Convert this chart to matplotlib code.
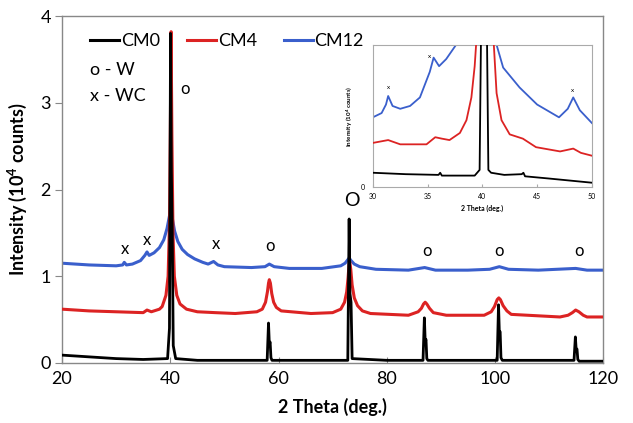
import matplotlib
matplotlib.use("Agg")
import matplotlib.pyplot as plt
from matplotlib.lines import Line2D

plt.rcParams['font.family'] = ['Lato', 'DejaVu Sans']
plt.rcParams['mathtext.fontset'] = 'custom'
plt.rcParams['mathtext.rm'] = 'Lato'
plt.rcParams['mathtext.bf'] = 'Lato:bold'

# ---------------- main pattern data (2theta in deg, intensity in 10^4 counts) -------------
cm0_x = [20, 25, 30, 35, 39.5, 39.85, 40.05, 40.2, 40.35, 40.55, 41, 45, 50, 57.9, 58.15, 58.3,
         58.45, 58.6, 58.8, 65, 72.8, 73.05, 73.2, 73.4, 73.6, 80, 86.7, 86.95, 87.1, 87.25,
         87.4, 87.6, 95, 100.4, 100.65, 100.8, 100.95, 101.1, 101.35, 108, 114.6, 114.85,
         115.0, 115.15, 115.3, 115.55, 120]
cm0_y = [0.09, 0.07, 0.05, 0.04, 0.05, 0.4, 3.8, 2.2, 1.6, 0.2, 0.05, 0.03, 0.03, 0.03, 0.46,
         0.22, 0.24, 0.06, 0.03, 0.03, 0.03, 1.66, 0.8, 0.7, 0.05, 0.03, 0.03, 0.52, 0.25,
         0.27, 0.05, 0.03, 0.03, 0.03, 0.67, 0.35, 0.36, 0.06, 0.03, 0.03, 0.03, 0.30, 0.15,
         0.16, 0.04, 0.02, 0.02]

cm4_x = [20, 25, 30, 35, 35.7, 36.5, 38, 38.5, 39.2, 39.6, 39.85, 40.0, 40.15, 40.3, 40.5,
         40.75, 41.2, 41.8, 43, 45, 48.3, 52, 56, 57.0, 57.6, 57.95, 58.15, 58.3, 58.5, 58.75,
         59.1, 59.6, 60.5, 66, 70, 71.5, 72.2, 72.6, 72.85, 73.05, 73.15, 73.35, 73.6, 74.0,
         74.6, 75.5, 77, 84, 85.8, 86.4, 86.8, 87.1, 87.4, 87.9, 88.6, 91, 98, 99.3, 99.9,
         100.4, 100.7, 101.0, 101.5, 102.2, 103, 112, 113.5, 114.3, 114.9, 115.5, 116.3, 117,
         120]
cm4_y = [0.62, 0.60, 0.59, 0.58, 0.61, 0.59, 0.62, 0.65, 0.78, 1.0, 1.6, 2.6, 3.82, 2.6, 1.5,
         1.0, 0.78, 0.68, 0.62, 0.59, 0.58, 0.57, 0.59, 0.62, 0.70, 0.82, 0.92, 0.96, 0.92,
         0.80, 0.70, 0.64, 0.60, 0.57, 0.58, 0.62, 0.70, 0.82, 0.98, 1.15, 1.17, 1.08, 0.90,
         0.75, 0.66, 0.60, 0.57, 0.55, 0.59, 0.63, 0.68, 0.70, 0.68, 0.63, 0.58, 0.55, 0.55,
         0.59, 0.65, 0.73, 0.75, 0.73, 0.66, 0.60, 0.56, 0.53, 0.55, 0.58, 0.61, 0.59, 0.55,
         0.53, 0.53]

cm12_x = [20, 25, 30, 31.2, 31.5, 31.9, 33, 34.5, 35.3, 35.7, 36.1, 37, 38, 38.8, 39.4, 39.8,
          40.1, 40.4, 40.8, 41.4, 42.2, 43.2, 44.5, 46, 47, 48, 48.8, 50, 55, 57.5, 58.3, 59.2,
          62, 68, 71.5, 72.3, 72.8, 73.05, 73.4, 74.0, 75, 78, 84, 87, 89, 95, 99, 100.8,
          102.5, 108, 114.9, 117, 120]
cm12_y = [1.15, 1.13, 1.12, 1.13, 1.16, 1.13, 1.14, 1.18, 1.24, 1.28, 1.24, 1.27, 1.33, 1.42,
          1.55, 1.68, 1.78, 1.66, 1.52, 1.40, 1.31, 1.25, 1.20, 1.16, 1.14, 1.17, 1.13, 1.11,
          1.10, 1.11, 1.14, 1.11, 1.09, 1.09, 1.12, 1.15, 1.19, 1.21, 1.18, 1.14, 1.11, 1.08,
          1.07, 1.10, 1.07, 1.07, 1.08, 1.11, 1.08, 1.07, 1.09, 1.07, 1.07]

# peak labels: (2theta, height, symbol)
mark_x = [31.6, 35.7, 42.7, 48.5, 58.4, 73.6, 87.5, 100.8, 115.6]
mark_y = [1.31, 1.42, 3.16, 1.37, 1.35, 1.87, 1.29, 1.29, 1.29]
mark_s = ['x', 'x', 'o', 'x', 'o', 'O', 'o', 'o', 'o']

# ---------------- inset data (arbitrary units, 30-50 deg) -------------
in0_x = [30, 33, 36, 36.15, 36.3, 38, 39.3, 39.75, 39.95, 40.35, 40.55, 40.8, 42, 43.6, 43.75,
         43.9, 46, 50]
in0_y = [0.10, 0.09, 0.085, 0.10, 0.08, 0.08, 0.08, 0.12, 1.6, 1.6, 0.12, 0.10, 0.085, 0.09,
         0.10, 0.075, 0.06, 0.03]
in4_x = [30, 31.4, 32.5, 34.9, 35.7, 36.3, 37.0, 37.95, 38.55, 39.0, 39.3, 39.6, 40.9, 41.3,
         41.75, 42.5, 43.7, 44.9, 47.1, 48.3, 49.0, 50]
in4_y = [0.31, 0.33, 0.30, 0.30, 0.35, 0.34, 0.33, 0.38, 0.47, 0.63, 0.85, 1.2, 1.2, 0.66,
         0.47, 0.37, 0.34, 0.28, 0.25, 0.27, 0.24, 0.22]
in12_x = [30, 30.8, 31.2, 31.4, 31.8, 32.5, 33.4, 34.3, 35.2, 35.55, 36.05, 36.7, 37.6, 37.9,
          41.0, 41.3, 41.9, 43.4, 45.0, 47.0, 47.8, 48.3, 48.9, 50]
in12_y = [0.49, 0.52, 0.58, 0.64, 0.57, 0.55, 0.57, 0.63, 0.81, 0.91, 0.85, 0.90, 1.0, 1.1,
          1.1, 1.0, 0.84, 0.70, 0.58, 0.49, 0.55, 0.63, 0.54, 0.45]
in_mark_x = [31.4, 35.2, 48.2]
in_mark_y = [0.70, 0.92, 0.68]

labels = ['CM0', 'CM4', 'CM12']
colors = ['#000000', '#dc2323', '#3a5fcc']

fig = plt.figure(figsize=(6.33, 4.23), dpi=100)
ax = fig.add_axes([0.098, 0.142, 0.855, 0.820])

ax.plot(cm12_x, cm12_y, color=colors[2], lw=2.2, zorder=2)
ax.plot(cm4_x, cm4_y, color=colors[1], lw=2.2, zorder=3)
ax.plot(cm0_x, cm0_y, color=colors[0], lw=2.0, zorder=4)

for mx, my, ms in zip(mark_x, mark_y, mark_s):
    ax.text(mx, my, ms, fontsize=14 if ms == 'O' else 12, ha='center', va='center')

ax.set_xlim(20, 120)
ax.set_ylim(0, 4)
ax.set_xticks([20, 40, 60, 80, 100, 120])
ax.set_yticks([0, 1, 2, 3, 4])
ax.tick_params(axis='x', direction='in', length=4, color='#888888', labelsize=13, pad=6)
ax.tick_params(axis='y', direction='out', length=5, color='#888888', labelsize=13, pad=3)
for s in ax.spines.values():
    s.set_color('#888888')
    s.set_linewidth(1.0)
ax.set_xlabel('2 Theta (deg.)', fontsize=13, fontweight='bold', labelpad=8)
ax.set_ylabel('Intensity (10$^{\\mathbf{4}}$ counts)', fontsize=13, fontweight='bold', labelpad=8)

handles = [Line2D([], [], color=c, lw=2.2) for c in colors]
ax.legend(handles, labels, ncol=3, frameon=False, loc='center left',
          bbox_to_anchor=(0.052, 0.928), borderpad=0, borderaxespad=0,
          handlelength=1.6, handletextpad=0.1, columnspacing=1.5, fontsize=13)
ax.text(0.052, 0.844, 'o - W', transform=ax.transAxes, fontsize=13, va='center', ha='left')
ax.text(0.052, 0.769, 'x - WC', transform=ax.transAxes, fontsize=13, va='center', ha='left')

# inset
ins = fig.add_axes([0.589, 0.558, 0.346, 0.336])
ins.plot(in12_x, in12_y, color=colors[2], lw=1.3, zorder=2)
ins.plot(in4_x, in4_y, color=colors[1], lw=1.3, zorder=3)
ins.plot(in0_x, in0_y, color=colors[0], lw=1.3, zorder=4)
for mx, my in zip(in_mark_x, in_mark_y):
    ins.text(mx, my, 'x', fontsize=4.5, ha='center', va='center')
ins.set_xlim(30, 50)
ins.set_ylim(0, 1)
ins.set_xticks([30, 35, 40, 45, 50])
ins.set_yticks([0])
ins.tick_params(axis='x', direction='in', length=2, color='#aaaaaa', labelsize=5, pad=4)
ins.tick_params(axis='y', length=0, labelsize=5, pad=6)
for s in ins.spines.values():
    s.set_color('#aaaaaa')
    s.set_linewidth(0.8)
ins.set_xlabel('2 Theta (deg.)', fontsize=5, fontweight='bold', labelpad=4)
ins.set_ylabel('Intensity (10$^{\\mathbf{4}}$ counts)', fontsize=4.5, fontweight='bold', labelpad=4)

fig.savefig('out.png', dpi=100)
